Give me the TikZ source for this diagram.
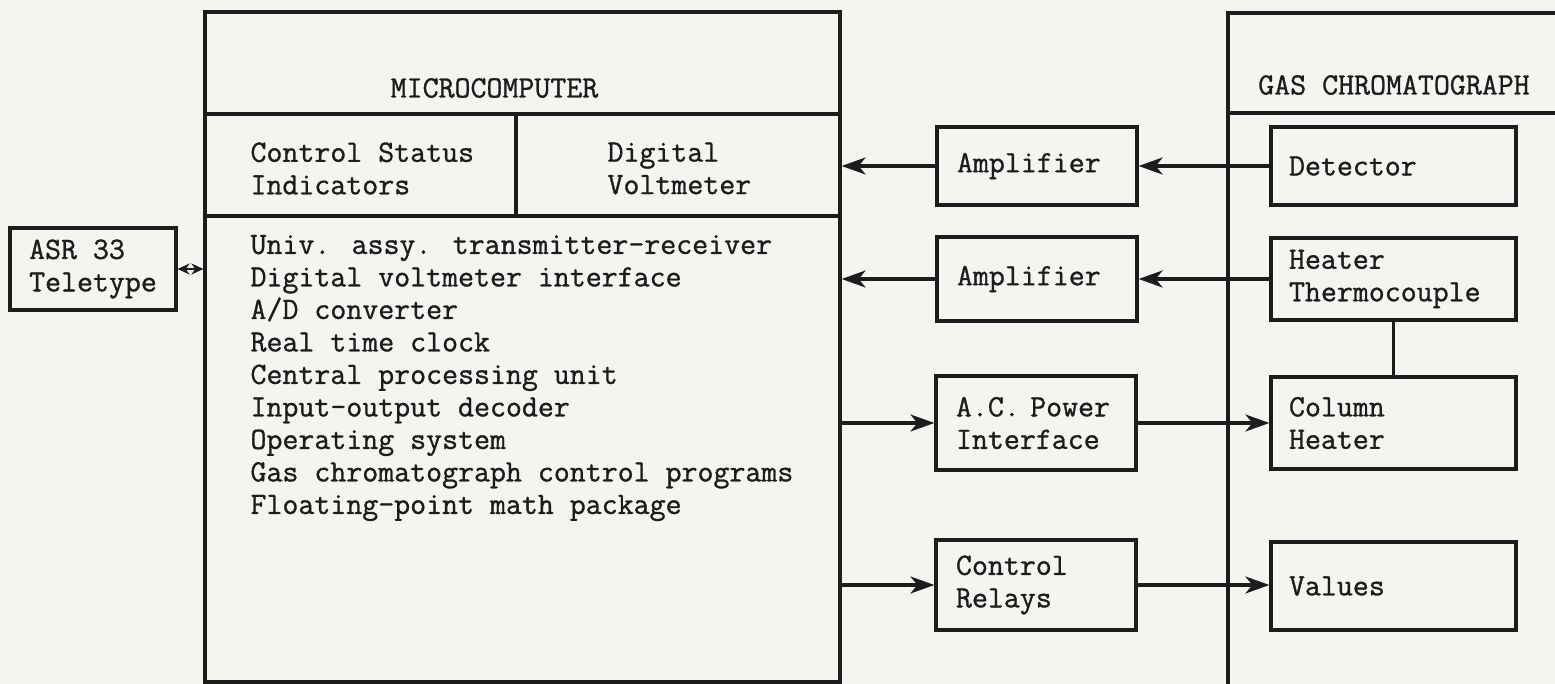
\documentclass[tikz,border=0pt]{standalone}
\usepackage{fontspec}
\newfontfamily\gcfamily[FakeBold=1.0]{Latin Modern Mono}
\usetikzlibrary{arrows.meta}
\newcommand{\gcfont}{\gcfamily\fontsize{31}{32.5}\selectfont}
\definecolor{paper}{RGB}{244,244,241}
\definecolor{ink}{RGB}{28,28,28}
\tikzset{block/.style = {shape=rectangle,draw=ink,line width=3.2pt,inner sep=0pt,font=\gcfont,text=ink}}
\tikzset{midbox/.style = {block,minimum width=200pt,text width=160pt,align=left}}
\tikzset{gcbox/.style = {block,minimum width=245pt,text width=209pt,align=left}}
\tikzset{wall/.style = {draw=ink,line width=3.2pt}}
\tikzset{edge/.style = {-{Stealth[length=24pt,width=17pt,inset=7pt]},draw=ink,line width=3.2pt}}
\tikzset{duplex/.style = {{Stealth[length=12pt,width=11pt]}-{Stealth[length=12pt,width=11pt]},draw=ink,line width=2.6pt}}

\begin{document}
\begin{tikzpicture}[x=1pt,y=-1pt]

\useasboundingbox (0,0) rectangle (1555,684);
\fill[paper] (0,0) rectangle (1555,684);
\clip (0,0) rectangle (1555,684);

\node[block,minimum width=635pt,minimum height=670pt] (micro) at (522.5,347) {};
\node[block,minimum width=472pt,minimum height=787pt] (gc) at (1464,406.5) {};
\draw[wall] (205,114) -- (840,114);
\draw[wall] (205,216) -- (840,216);
\draw[wall] (516,114) -- (516,216);
\draw[wall] (1228,113) -- (1555,113);

\node[font=\gcfont,text=ink] (microtitle) at (494.5,88) {MICROCOMPUTER};
\node[font=\gcfont,text=ink] (gctitle) at (1394,85) {GAS CHROMATOGRAPH};
\node[font=\gcfont,text=ink,align=left,anchor=west] (status) at (247,168.5) {Control Status\\Indicators};
\node[font=\gcfont,text=ink,align=left,anchor=west] (dvm) at (604,168.5) {Digital\\Voltmeter};
\node[font=\gcfont,text=ink,align=left,anchor=west] (modules) at (247,378) {Univ. assy. transmitter-receiver\\Digital voltmeter interface\\A/D converter\\Real time clock\\Central processing unit\\Input-output decoder\\Operating system\\Gas chromatograph control programs\\Floating-point math package};

\node[block,minimum width=166pt,minimum height=82pt,align=left] (teletype) at (93,269) {ASR 33\\Teletype};

\node[midbox,minimum height=78pt] (amp1) at (1037,166) {\mbox{Amplifier}};
\node[midbox,minimum height=84pt] (amp2) at (1037,279) {\mbox{Amplifier}};
\node[midbox,minimum height=94pt] (acpower) at (1036,423) {\mbox{A.C. Power}\\Interface};
\node[midbox,minimum height=90pt] (relays) at (1036,585) {Control\\Relays};

\node[gcbox,minimum height=78pt] (detector) at (1393.5,166) {Detector};
\node[gcbox,minimum height=82pt] (thermo) at (1393.5,279) {Heater\\Thermocouple};
\node[gcbox,minimum height=92pt] (colheater) at (1393.5,423) {Column\\Heater};
\node[gcbox,minimum height=88pt] (valves) at (1393.5,586) {Values};

\draw[duplex] (teletype.east) -- (teletype.east -| micro.west);
\draw[edge] (detector.west) -- (amp1.east);
\draw[edge] (amp1.west) -- (amp1.west -| micro.east);
\draw[edge] (thermo.west) -- (amp2.east);
\draw[edge] (amp2.west) -- (amp2.west -| micro.east);
\draw[edge] (acpower.west -| micro.east) -- (acpower.west);
\draw[edge] (acpower.east) -- (colheater.west);
\draw[edge] (relays.west -| micro.east) -- (relays.west);
\draw[edge] (relays.east) -- (relays.east -| valves.west);
\draw[wall] (thermo.south) -- (colheater.north);

\end{tikzpicture}
\end{document}
